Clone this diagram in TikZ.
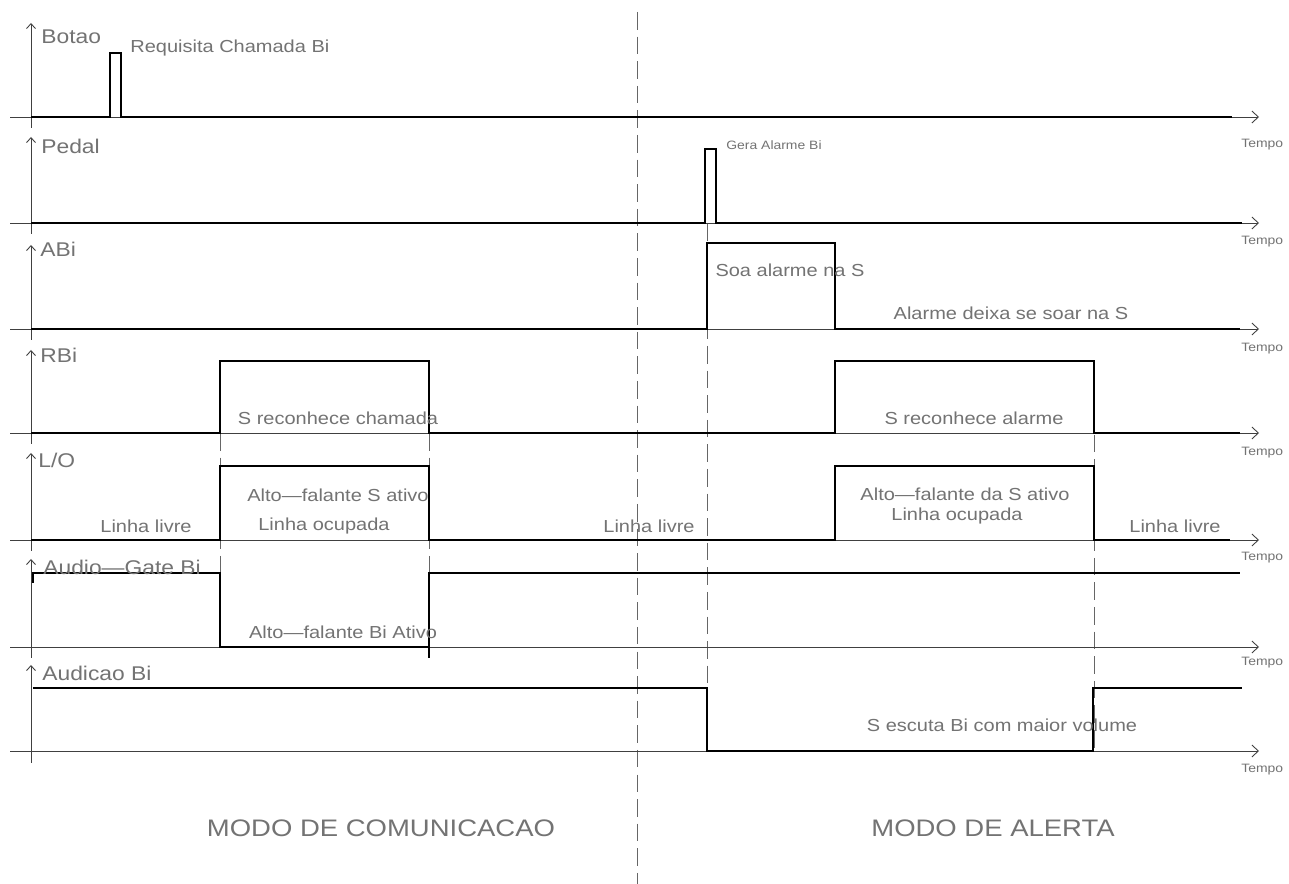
\documentclass[tikz,border=0pt]{standalone}
\usepackage{fontspec}
\newfontfamily\cadfont[FakeStretch=1.15]{Liberation Sans}
\usetikzlibrary{arrows.meta}
\tikzset{
  sig/.style={line width=1.5pt, black, line join=miter},
  ax/.style={line width=0.5pt, black!75, -{Straight Barb[length=1.3mm,width=2.4mm]}},
  vax/.style={line width=0.5pt, black!75, -{Straight Barb[length=1.0mm,width=1.8mm]}},
  guide/.style={line width=0.5pt, black!60, dash pattern=on 10pt off 4pt},
  lbl/.style={inner sep=0pt, anchor=west, text=black!55, font=\cadfont\fontsize{11.3pt}{13pt}\selectfont},
  ann/.style={inner sep=0pt, text=black!55, font=\cadfont\fontsize{9.9pt}{12pt}\selectfont},
  tiny/.style={inner sep=0pt, anchor=west, text=black!55, font=\cadfont\fontsize{6.9pt}{8pt}\selectfont},
  modo/.style={inner sep=0pt, text=black!55, font=\cadfont\fontsize{13.6pt}{16pt}\selectfont}
}
\begin{document}
\begin{tikzpicture}[x=0.02cm, y=-0.02cm]
\useasboundingbox (0,0) rectangle (1289,884);
\fill[white] (0,0) rectangle (1289,884);

% guide lines (dashed)
\draw[guide] (637,12) -- (637,884);
\draw[guide] (220,433) -- (220,647);
\draw[guide] (429,433) -- (429,658);
\draw[guide] (707,223) -- (707,751);
\draw[guide] (1094,361) -- (1094,751);

% horizontal time axes
\foreach \yy/\nm in {117/a,223/b,329/c,433/d,540/e,647/f,751/g}{
  \coordinate (ax\nm s) at (10,\yy);
  \coordinate (ax\nm e) at (1259,\yy);
  \draw[ax] (ax\nm s) -- (ax\nm e);
}
% vertical axes
\foreach \yb/\yt/\nm in {128/23/a,234/137/b,340/245/c,444/350/d,551/453/e,658/559/f,763/665/g}{
  \coordinate (vx\nm b) at (31,\yb);
  \coordinate (vx\nm t) at (31,\yt);
  \draw[vax] (vx\nm b) -- (vx\nm t);
}

% signals
\draw[sig] (31,117) -- (110,117) -- (110,53) -- (121,53) -- (121,117) -- (1232,117);
\draw[sig] (31,223) -- (705,223) -- (705,149) -- (716,149) -- (716,223) -- (1242,223);
\draw[sig] (31,329) -- (707,329) -- (707,243) -- (835,243) -- (835,329) -- (1240,329);
\draw[sig] (31,433) -- (220,433) -- (220,361) -- (429,361) -- (429,433) -- (835,433) -- (835,361) -- (1094,361) -- (1094,433) -- (1240,433);
\draw[sig] (31,540) -- (220,540) -- (220,466) -- (429,466) -- (429,540) -- (835,540) -- (835,466) -- (1094,466) -- (1094,540) -- (1230,540);
\draw[sig] (33,583) -- (33,573) -- (220,573) -- (220,647) -- (429,647) -- (429,573) -- (1240,573);
\draw[sig] (429,647) -- (429,658);
\draw[sig] (33,688) -- (707,688) -- (707,751) -- (1093,751) -- (1093,688) -- (1242,688);

% axis labels
\node[lbl] (botao) at (41,37) {Botao};
\node[lbl] (pedal) at (41,146) {Pedal};
\node[lbl] (abi) at (40,249) {ABi};
\node[lbl] (rbi) at (40,355) {RBi};
\node[lbl] (lo) at (38,460) {L/O};
\node[lbl] (agate) at (43,567) {Audio—Gate Bi};
\node[lbl] (audic) at (42,673) {Audicao Bi};

% Tempo labels
\node[tiny] (t1) at (1241,145) {Tempo};
\node[tiny] (t2) at (1241,242) {Tempo};
\node[tiny] (t3) at (1241,349) {Tempo};
\node[tiny] (t4) at (1241,453) {Tempo};
\node[tiny] (t5) at (1241,558) {Tempo};
\node[tiny] (t6) at (1241,663) {Tempo};
\node[tiny] (t7) at (1241,770) {Tempo};

% annotations
\node[ann, anchor=west] (req) at (130,48) {Requisita Chamada Bi};
\node[tiny] (gera) at (726,145) {Gera Alarme Bi};
\node[ann] (soa) at (790,270) {Soa alarme na S};
\node[ann] (deixa) at (1011,313) {Alarme deixa se soar na S};
\node[ann] (recch) at (338,418) {S reconhece chamada};
\node[ann] (recal) at (974,418) {S reconhece alarme};
\node[ann] (afs) at (338,495) {Alto—falante S ativo};
\node[ann] (ll1) at (146,526) {Linha livre};
\node[ann] (lo1) at (324,526) {Linha ocupada};
\node[ann] (ll2) at (649,526) {Linha livre};
\node[ann] (afds) at (965,494) {Alto—falante da S ativo};
\node[ann] (lo2) at (957,516) {Linha ocupada};
\node[ann] (ll3) at (1175,526) {Linha livre};
\node[ann] (afbi) at (343,632) {Alto—falante Bi Ativo};
\node[ann] (escuta) at (1002,725) {S escuta Bi com maior volume};

% mode titles
\node[modo] (mcom) at (381,828) {MODO DE COMUNICACAO};
\node[modo] (malr) at (993,828) {MODO DE ALERTA};
\end{tikzpicture}
\end{document}
